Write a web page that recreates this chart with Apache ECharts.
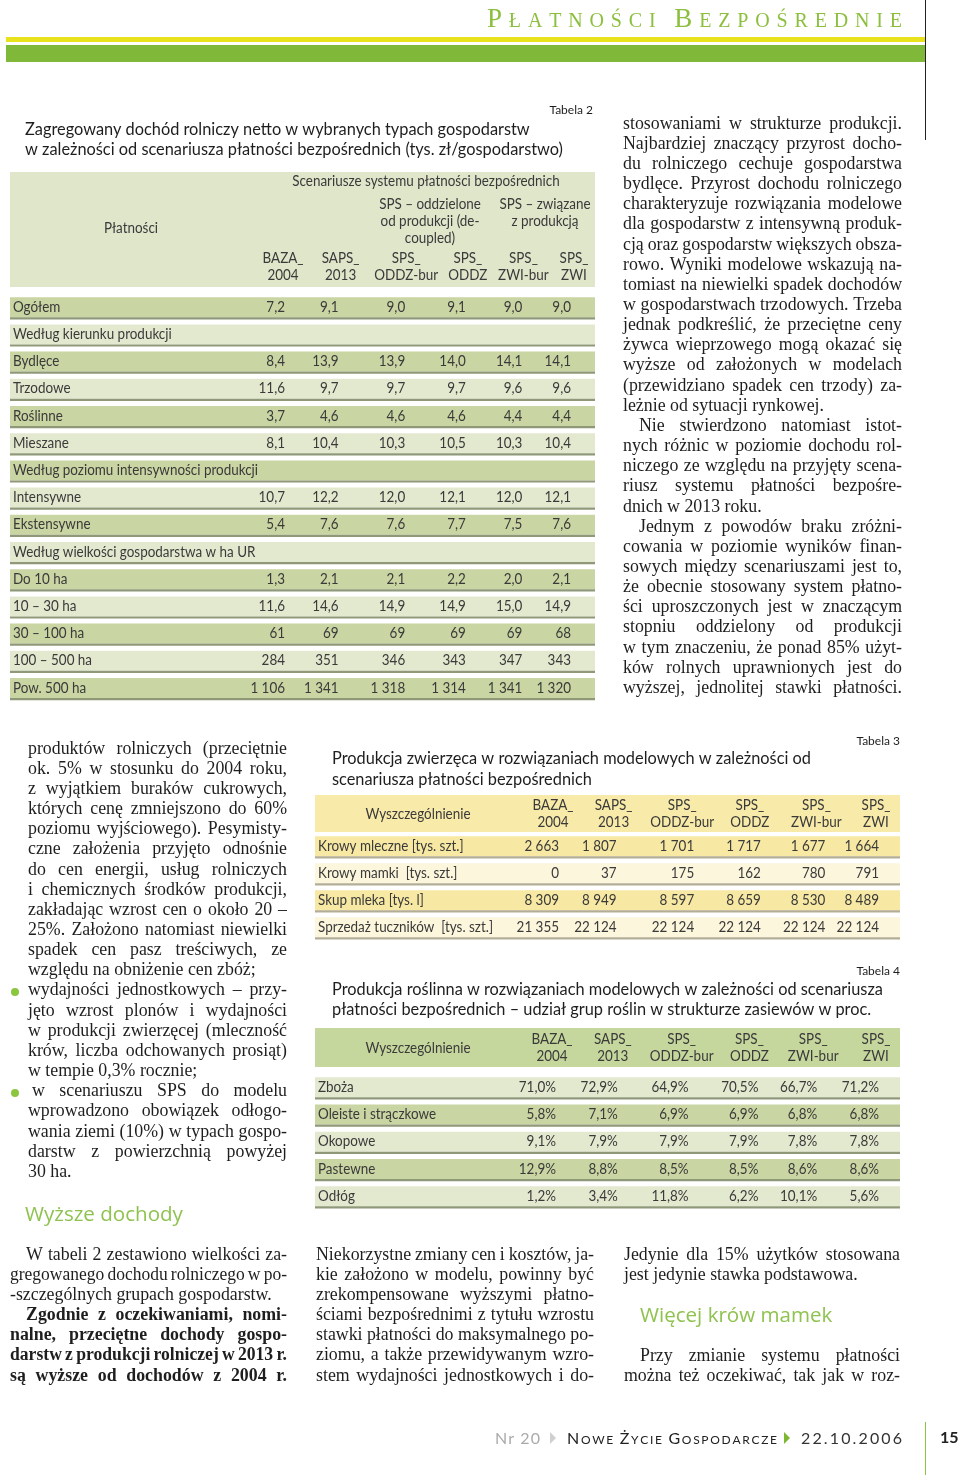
<!DOCTYPE html>
<html lang="pl"><head><meta charset="utf-8">
<script src="https://cdn.jsdelivr.net/npm/echarts@6.0.0/dist/echarts.min.js"></script>
<style>html,body{margin:0;padding:0;background:#fff}#chart{width:960px;height:1475px}</style>
</head><body><div id="chart"></div>
<script>
// ================= DATA =================
const scenarioLabels = ['BAZA_\n2004', 'SAPS_\n2013', 'SPS_\nODDZ-bur', 'SPS_\nODDZ', 'SPS_\nZWI-bur', 'SPS_\nZWI'];

const t2Rows = ['Ogółem', 'Według kierunku produkcji', 'Bydlęce', 'Trzodowe', 'Roślinne', 'Mieszane',
  'Według poziomu intensywności produkcji', 'Intensywne', 'Ekstensywne',
  'Według wielkości gospodarstwa w ha UR', 'Do 10 ha', '10 – 30 ha', '30 – 100 ha', '100 – 500 ha', 'Pow. 500 ha'];
const t2Values = [
  [7.2, 9.1, 9.0, 9.1, 9.0, 9.0],
  null,
  [8.4, 13.9, 13.9, 14.0, 14.1, 14.1],
  [11.6, 9.7, 9.7, 9.7, 9.6, 9.6],
  [3.7, 4.6, 4.6, 4.6, 4.4, 4.4],
  [8.1, 10.4, 10.3, 10.5, 10.3, 10.4],
  null,
  [10.7, 12.2, 12.0, 12.1, 12.0, 12.1],
  [5.4, 7.6, 7.6, 7.7, 7.5, 7.6],
  null,
  [1.3, 2.1, 2.1, 2.2, 2.0, 2.1],
  [11.6, 14.6, 14.9, 14.9, 15.0, 14.9],
  [61, 69, 69, 69, 69, 68],
  [284, 351, 346, 343, 347, 343],
  [1106, 1341, 1318, 1314, 1341, 1320]
];
const t2Decimals = [1, 1, 1, 1, 1, 1, 1, 1, 1, 1, 1, 1, 0, 0, 0];

const t3Rows = ['Krowy mleczne [tys. szt.]', 'Krowy mamki  [tys. szt.]', 'Skup mleka [tys. l]', 'Sprzedaż tuczników  [tys. szt.]'];
const t3Values = [
  [2663, 1807, 1701, 1717, 1677, 1664],
  [0, 37, 175, 162, 780, 791],
  [8309, 8949, 8597, 8659, 8530, 8489],
  [21355, 22124, 22124, 22124, 22124, 22124]
];

const t4Rows = ['Zboża', 'Oleiste i strączkowe', 'Okopowe', 'Pastewne', 'Odłóg'];
const t4Values = [
  [71.0, 72.9, 64.9, 70.5, 66.7, 71.2],
  [5.8, 7.1, 6.9, 6.9, 6.8, 6.8],
  [9.1, 7.9, 7.9, 7.9, 7.8, 7.8],
  [12.9, 8.8, 8.5, 8.5, 8.6, 8.6],
  [1.2, 3.4, 11.8, 6.2, 10.1, 5.6]
];

// ================= TEXT =================
const rightColLines = [
  ['stosowaniami w strukturze produkcji.', 'J'],
  ['Najbardziej znaczący przyrost docho-', 'J'],
  ['du rolniczego cechuje gospodarstwa', 'J'],
  ['bydlęce. Przyrost dochodu rolniczego', 'J'],
  ['charakteryzuje rozwiązania modelowe', 'J'],
  ['dla gospodarstw z intensywną produk-', 'J'],
  ['cją oraz gospodarstw większych obsza-', 'J'],
  ['rowo. Wyniki modelowe wskazują na-', 'J'],
  ['tomiast na niewielki spadek dochodów', 'J'],
  ['w gospodarstwach trzodowych. Trzeba', 'J'],
  ['jednak podkreślić, że przeciętne ceny', 'J'],
  ['żywca wieprzowego mogą okazać się', 'J'],
  ['wyższe od założonych w modelach', 'J'],
  ['(przewidziano spadek cen trzody) za-', 'J'],
  ['leżnie od sytuacji rynkowej.', 'L'],
  ['Nie stwierdzono natomiast istot-', 'J', 16],
  ['nych różnic w poziomie dochodu rol-', 'J'],
  ['niczego ze względu na przyjęty scena-', 'J'],
  ['riusz systemu płatności bezpośre-', 'J'],
  ['dnich w 2013 roku.', 'L'],
  ['Jednym z powodów braku zróżni-', 'J', 16],
  ['cowania w poziomie wyników finan-', 'J'],
  ['sowych między scenariuszami jest to,', 'J'],
  ['że obecnie stosowany system płatno-', 'J'],
  ['ści uproszczonych jest w znaczącym', 'J'],
  ['stopniu oddzielony od produkcji', 'J'],
  ['w tym znaczeniu, że ponad 85% użyt-', 'J'],
  ['ków rolnych uprawnionych jest do', 'J'],
  ['wyższej, jednolitej stawki płatności.', 'J']
];
const leftColLines = [
  ['produktów rolniczych (przeciętnie', 'J'],
  ['ok. 5% w stosunku do 2004 roku,', 'J'],
  ['z wyjątkiem buraków cukrowych,', 'J'],
  ['których cenę zmniejszono do 60%', 'J'],
  ['poziomu wyjściowego). Pesymisty-', 'J'],
  ['czne założenia przyjęto odnośnie', 'J'],
  ['do cen energii, usług rolniczych', 'J'],
  ['i chemicznych środków produkcji,', 'J'],
  ['zakładając wzrost cen o około 20 –', 'J'],
  ['25%. Założono natomiast niewielki', 'J'],
  ['spadek cen pasz treściwych, ze', 'J'],
  ['względu na obniżenie cen zbóż;', 'L'],
  ['wydajności jednostkowych – przy-', 'J'],
  ['jęto wzrost plonów i wydajności', 'J'],
  ['w produkcji zwierzęcej (mleczność', 'J'],
  ['krów, liczba odchowanych prosiąt)', 'J'],
  ['w tempie 0,3% rocznie;', 'L'],
  ['w scenariuszu SPS do modelu', 'J', 4],
  ['wprowadzono obowiązek odłogo-', 'J'],
  ['wania ziemi (10%) w typach gospo-', 'J'],
  ['darstw z powierzchnią powyżej', 'J'],
  ['30 ha.', 'L']
];
const leftLowerLines = [
  ['W tabeli 2 zestawiono wielkości za-', 'J', 16],
  ['gregowanego dochodu rolniczego w po-', 'J'],
  ['-szczególnych grupach gospodarstw.', 'L'],
  ['Zgodnie z oczekiwaniami, nomi-', 'J', 16, true],
  ['nalne, przeciętne dochody gospo-', 'J', 0, true],
  ['darstw z produkcji rolniczej w 2013 r.', 'J', 0, true],
  ['są wyższe od dochodów z 2004 r.', 'J', 0, true]
];
const midLowerLines = [
  ['Niekorzystne zmiany cen i kosztów, ja-', 'J'],
  ['kie założono w modelu, powinny być', 'J'],
  ['zrekompensowane wyższymi płatno-', 'J'],
  ['ściami bezpośrednimi z tytułu wzrostu', 'J'],
  ['stawki płatności do maksymalnego po-', 'J'],
  ['ziomu, a także przewidywanym wzro-', 'J'],
  ['stem wydajności jednostkowych i do-', 'J']
];
const rightLowerA = [
  ['Jedynie dla 15% użytków stosowana', 'J'],
  ['jest jedynie stawka podstawowa.', 'L']
];
const rightLowerB = [
  ['Przy zmianie systemu płatności', 'J', 16],
  ['można też oczekiwać, tak jak w roz-', 'J']
];

// ================= HELPERS =================
const cv = document.createElement('canvas').getContext('2d');
function tw(t, font) { cv.font = font; return cv.measureText(t).width; }
const SERIF = '"Liberation Serif", "DejaVu Serif", serif';
const SANS = 'Lato, "Open Sans", sans-serif';
const HEAD = '"Open Sans", Lato, sans-serif';
function fitSize(text, fam, w, weight) { const m = tw(text, (weight || 'normal') + ' 20px ' + fam); return 20 * w / m; }

const bodySize = fitSize('leżnie od sytuacji rynkowej.', SERIF, 201);
const bodyFont = b => (b ? 'bold ' : 'normal ') + bodySize.toFixed(2) + 'px ' + SERIF;
// table text: tall Gill-like glyphs -> larger size, horizontally condensed
const tabFS = 14.8;
const tabFont = 'normal ' + tabFS + 'px ' + SANS;
const tabSX = 245 / tw('Według poziomu intensywności produkcji', tabFont);
const titleSize = fitSize('Zagregowany dochód rolniczy netto w wybranych typach gospodarstw', SANS, 505);
const titleFont = 'normal ' + titleSize.toFixed(2) + 'px ' + SANS;
const smallFont = 'normal 12px ' + SANS;
const headingSize = fitSize('Wyższe dochody', HEAD, 158);
const headingFont = 'normal ' + headingSize.toFixed(2) + 'px ' + HEAD;
const GREEN_TXT = '#8fc24f';
const TXT = '#1e1e1e';
const TAB_TXT = '#3a3a3a';

const G = [];
function txt(x, y, text, font, fill, align, valign, extra, el) {
  const st = Object.assign({ text, font, fill: fill || TXT, align: align || 'left', verticalAlign: valign || 'middle' }, extra || {});
  G.push(Object.assign({ type: 'text', x, y, z: 10, silent: true, style: st }, el || {}));
}
function ttxt(x, y, text, align, extra) { txt(x, y, text, tabFont, TAB_TXT, align, 'middle', extra, { scaleX: tabSX }); }
function rect(x, y, w, h, fill, z) { G.push({ type: 'rect', z: z || 1, silent: true, shape: { x, y, width: w, height: h }, style: { fill } }); }

function para(lines, x0, x1, y0, pitch) {
  lines.forEach((ln, i) => {
    const [text, mode, ind, bold] = ln;
    const f = bodyFont(bold);
    const y = y0 + i * pitch;
    const xs = x0 + (ind || 0);
    if (mode === 'L') { txt(xs, y, text, f); return; }
    const words = text.split(' ').filter(w => w.length);
    const ws = words.map(w => tw(w, f));
    const tot = ws.reduce((a, b) => a + b, 0);
    const n = words.length;
    const avail = x1 - xs;
    let sx = 1, gap = n > 1 ? (avail - tot) / (n - 1) : 0;
    const minGap = 3.2;
    if (n > 1 && gap < minGap) { gap = minGap; sx = (avail - (n - 1) * minGap) / tot; }
    let x = xs;
    words.forEach((w, k) => { txt(x, y, w, f, TXT, 'left', 'middle', null, sx !== 1 ? { scaleX: sx } : null); x += ws[k] * sx + gap; });
  });
}
function spaced(parts, x0, x1, base, fill, fam, weight) {
  const chars = [];
  parts.forEach(([s, fs]) => { for (const ch of s) chars.push({ ch, fs }); });
  let nat = 0;
  chars.forEach(c => { c.f = (weight || 'normal') + ' ' + c.fs + 'px ' + fam; c.w = tw(c.ch, c.f); nat += c.w; });
  const sp = (x1 - x0 - nat) / (chars.length - 1);
  let x = x0;
  chars.forEach(c => { if (c.ch !== ' ') txt(x, base - 0.34 * c.fs, c.ch, c.f, fill); x += c.w + sp; });
}

// ================= PAGE DECORATION =================
spaced([['P', 27], ['ŁATNOŚCI', 20], [' ', 20], ['B', 27], ['EZPOŚREDNIE', 20]], 487, 902, 29, '#8dbf3f', SERIF);
rect(6, 37, 919, 5, '#e8e21c');
rect(6, 45, 919, 17, '#80b93a');
G.push({ type: 'line', z: 5, silent: true, shape: { x1: 925.5, y1: 0, x2: 925.5, y2: 140 }, style: { stroke: '#222', lineWidth: 1 } });

// ================= TABLE 2 HEADER =================
txt(593, 110, 'Tabela 2', smallFont, TXT, 'right');
txt(25, 130, 'Zagregowany dochód rolniczy netto w wybranych typach gospodarstw', titleFont, TXT);
txt(25, 150, 'w zależności od scenariusza płatności bezpośrednich (tys. zł/gospodarstwo)', titleFont, TXT);
rect(10, 172, 585, 115, '#dfe6ca');
ttxt(426, 181, 'Scenariusze systemu płatności bezpośrednich', 'center');
ttxt(131, 228, 'Płatności', 'center');
ttxt(430, 221, 'SPS – oddzielone\nod produkcji (de-\ncoupled)', 'center', { lineHeight: 17 });
ttxt(545, 212.5, 'SPS – związane\nz produkcją', 'center', { lineHeight: 17 });

// ================= TABLE 3 / 4 HEADERS =================
txt(900, 741, 'Tabela 3', smallFont, TXT, 'right');
txt(332, 759, 'Produkcja zwierzęca w rozwiązaniach modelowych w zależności od', titleFont, TXT);
txt(332, 780, 'scenariusza płatności bezpośrednich', titleFont, TXT);
rect(315, 795, 585, 37, '#f8eaa8');
ttxt(418, 814, 'Wyszczególnienie', 'center');

txt(900, 971, 'Tabela 4', smallFont, TXT, 'right');
txt(332, 990, 'Produkcja roślinna w rozwiązaniach modelowych w zależności od scenariusza', titleFont, TXT);
txt(332, 1010, 'płatności bezpośrednich – udział grup roślin w strukturze zasiewów w proc.', titleFont, TXT);
rect(315, 1028, 585, 39, '#c6d79d');
ttxt(418, 1048, 'Wyszczególnienie', 'center');

// ================= BODY TEXT =================
const PITCH = 20.15;
para(rightColLines, 623, 902, 124, PITCH);
para(leftColLines, 28, 287, 749, PITCH);
G.push({ type: 'circle', z: 10, silent: true, shape: { cx: 15, cy: 992, r: 4 }, style: { fill: '#8cc63f' } });
G.push({ type: 'circle', z: 10, silent: true, shape: { cx: 15, cy: 1093, r: 4 }, style: { fill: '#8cc63f' } });
txt(25, 1215, 'Wyższe dochody', headingFont, GREEN_TXT);
para(leftLowerLines, 10, 287, 1255, PITCH);
para(midLowerLines, 316, 594, 1255, PITCH);
para(rightLowerA, 624, 900, 1255, PITCH);
txt(640, 1316, 'Więcej krów mamek', headingFont, GREEN_TXT);
para(rightLowerB, 624, 900, 1356, PITCH);

// ================= FOOTER =================
spaced([['Nr 20', 16]], 495, 540, 1444, '#aaaaaa', SANS);
G.push({ type: 'polygon', z: 10, silent: true, shape: { points: [[550, 1432], [556, 1438], [550, 1444]] }, style: { fill: '#d0d0d0' } });
spaced([['N', 16], ['OWE', 12], [' ', 12], ['Ż', 16], ['YCIE', 12], [' ', 12], ['G', 16], ['OSPODARCZE', 12]], 567, 777, 1444, '#222', SANS);
G.push({ type: 'polygon', z: 10, silent: true, shape: { points: [[784, 1432], [790, 1438], [784, 1444]] }, style: { fill: '#7cb82f' } });
spaced([['22.10.2006', 16]], 801, 902, 1444, '#333', SANS);
G.push({ type: 'line', z: 5, silent: true, shape: { x1: 925.5, y1: 1422, x2: 925.5, y2: 1475 }, style: { stroke: '#8cc63f', lineWidth: 1 } });
txt(940, 1438, '15', 'bold 16px ' + SANS, '#222');

// ================= TABLES (custom series on category axes) =================
function fmtNum(v, dec, suffix) {
  const s = v.toFixed(dec);
  const [i, f] = s.split('.');
  return i.replace(/\B(?=(\d{3})+(?!\d))/g, ' ') + (f !== undefined ? ',' + f : '') + (suffix || '');
}
const tables = [
  { rows: t2Rows, vals: t2Values, fmt: (v, r) => fmtNum(v, t2Decimals[r]),
    grid: { left: 253.7, top: 293.4, width: 351.6, height: 408 },
    left: 10, right: 595, colShift: [0, -1, 6, 9, 6, -2], valDx: [2, -2, -1, -2, -1, -3], headDy: 40.5,
    dark: '#c9d5a2', light: '#e3e9cf', line: '#8f9878', startDark: true },
  { rows: t3Rows, vals: t3Values, fmt: v => fmtNum(v, 0),
    grid: { left: 520.7, top: 832.5, width: 387.6, height: 108 },
    left: 315, right: 900, colShift: [0, -4, 0, 3, 5, 0], valDx: [6, 3, 12, 11, 9, 3], headDy: 32,
    dark: '#f7e8a3', light: '#fcf6dc', line: '#b3ad96', startDark: true },
  { rows: t4Rows, vals: t4Values, fmt: v => fmtNum(v, 1, '%'),
    grid: { left: 519.6, top: 1073.4, width: 388.8, height: 136.2 },
    left: 315, right: 900, colShift: [0, -4, 0, 3, 2, 0], valDx: [4, 5, 7, 9, 4, 3], headDy: 39,
    dark: '#c9d5a2', light: '#e3e9cf', line: '#8f9878', startDark: false }
];

function tabText(x, y, text, align, extra) {
  return { type: 'text', x, y, scaleX: tabSX,
    style: Object.assign({ text, font: tabFont, fill: TAB_TXT, align, verticalAlign: 'middle' }, extra || {}) };
}

const grids = [], xAxes = [], yAxes = [], series = [];
tables.forEach((T, gi) => {
  grids.push(Object.assign({ containLabel: false }, T.grid));
  xAxes.push({ type: 'category', gridIndex: gi, data: scenarioLabels, show: false });
  yAxes.push({ type: 'category', gridIndex: gi, data: T.rows, inverse: true, show: false });
  const bandData = T.rows.map((r, i) => [0, i]);
  const cellData = [];
  T.vals.forEach((row, r) => { if (row) row.forEach((v, c) => cellData.push([c, r, v])); });
  const headData = scenarioLabels.map((c, i) => [i, 0]);
  series.push({
    type: 'custom', xAxisIndex: gi, yAxisIndex: gi, data: bandData, z: 2, clip: false, silent: true,
    renderItem: (params, api) => {
      const r = api.value(1);
      const y = api.coord([0, r])[1];
      const dark = (r % 2 === 0) === T.startDark;
      return { type: 'group', children: [
        { type: 'rect', shape: { x: T.left, y: y - 9.8, width: T.right - T.left, height: 20 }, style: { fill: dark ? T.dark : T.light } },
        { type: 'rect', shape: { x: T.left, y: y + 10.2, width: T.right - T.left, height: 2.2 }, style: { fill: T.line } },
        tabText(T.left + 3, y, T.rows[r], 'left')
      ] };
    }
  });
  series.push({
    type: 'custom', xAxisIndex: gi, yAxisIndex: gi, data: cellData, z: 3, clip: false, silent: true,
    renderItem: (params, api) => {
      const c = api.value(0), r = api.value(1), v = api.value(2);
      const p = api.coord([c, r]);
      return tabText(p[0] + T.colShift[c] + T.valDx[c], p[1], T.fmt(v, r), 'right');
    }
  });
  series.push({
    type: 'custom', xAxisIndex: gi, yAxisIndex: gi, data: headData, z: 3, clip: false, silent: true,
    renderItem: (params, api) => {
      const c = api.value(0);
      const p = api.coord([c, 0]);
      return tabText(p[0] + T.colShift[c], p[1] - T.headDy, scenarioLabels[c], 'center', { lineHeight: 17 });
    }
  });
});

const chart = echarts.init(document.getElementById('chart'), null, { renderer: 'canvas' });
chart.setOption({
  animation: false,
  backgroundColor: '#ffffff',
  grid: grids, xAxis: xAxes, yAxis: yAxes, series: series,
  graphic: { elements: G }
});
</script></body></html>
